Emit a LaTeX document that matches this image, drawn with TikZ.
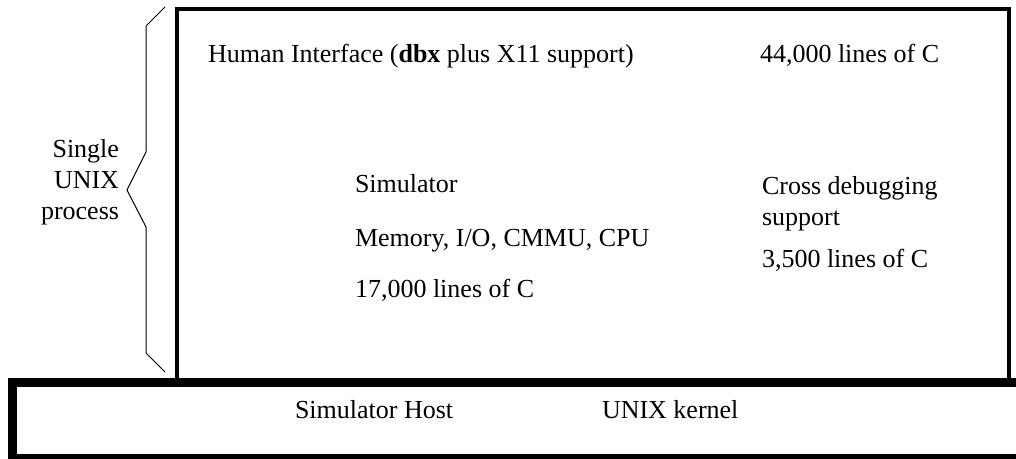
\documentclass[tikz,border=0pt]{standalone}
\usepackage{fontspec}
\setmainfont{Liberation Serif}
\begin{document}
\begin{tikzpicture}[x=1pt,y=-1pt,
  lbl/.style={inner sep=0pt,outer sep=0pt,anchor=base west,font=\fontsize{26}{31}\selectfont},
  lblr/.style={lbl,anchor=base east},
  upperbox/.style={draw=black,line width=4pt},
  hostbox/.style={draw=black,line width=9pt},
  bracestyle/.style={draw=black,line width=1pt,line join=miter}]
\useasboundingbox (0,0) rectangle (1016,458);
\begin{scope}
\clip (0,0) rectangle (1016,458);
% upper box (single UNIX process)
\draw[upperbox] (177,9) rectangle (1009,381);
% lower host box (open to the right)
\draw[hostbox] (12,382.5) rectangle (1040,458);
\end{scope}
% brace
\draw[bracestyle] (165,7) -- (146,26) -- (146,152) -- (127,190) -- (146,227) -- (146,353) -- (165,372);
% labels
\node[lbl] (hi) at (208,62) {Human Interface (\textbf{dbx} plus X11 support)};
\node[lbl] (hil) at (760,62) {44,000 lines of C};
\node[lblr] (s1) at (119,157) {Single};
\node[lblr] (s2) at (119,188) {UNIX};
\node[lblr] (s3) at (119,219) {process};
\node[lbl] (sim) at (355,192) {Simulator};
\node[lbl] (mem) at (355,246) {Memory, I/O, CMMU, CPU};
\node[lbl] (siml) at (355,297) {17,000 lines of C};
\node[lbl] (cd1) at (762,194) {Cross debugging};
\node[lbl] (cd2) at (762,225) {support};
\node[lbl] (cdl) at (762,267) {3,500 lines of C};
\node[lbl] (host) at (295,418) {Simulator Host};
\node[lbl] (kern) at (602,418) {UNIX kernel};
\end{tikzpicture}
\end{document}
